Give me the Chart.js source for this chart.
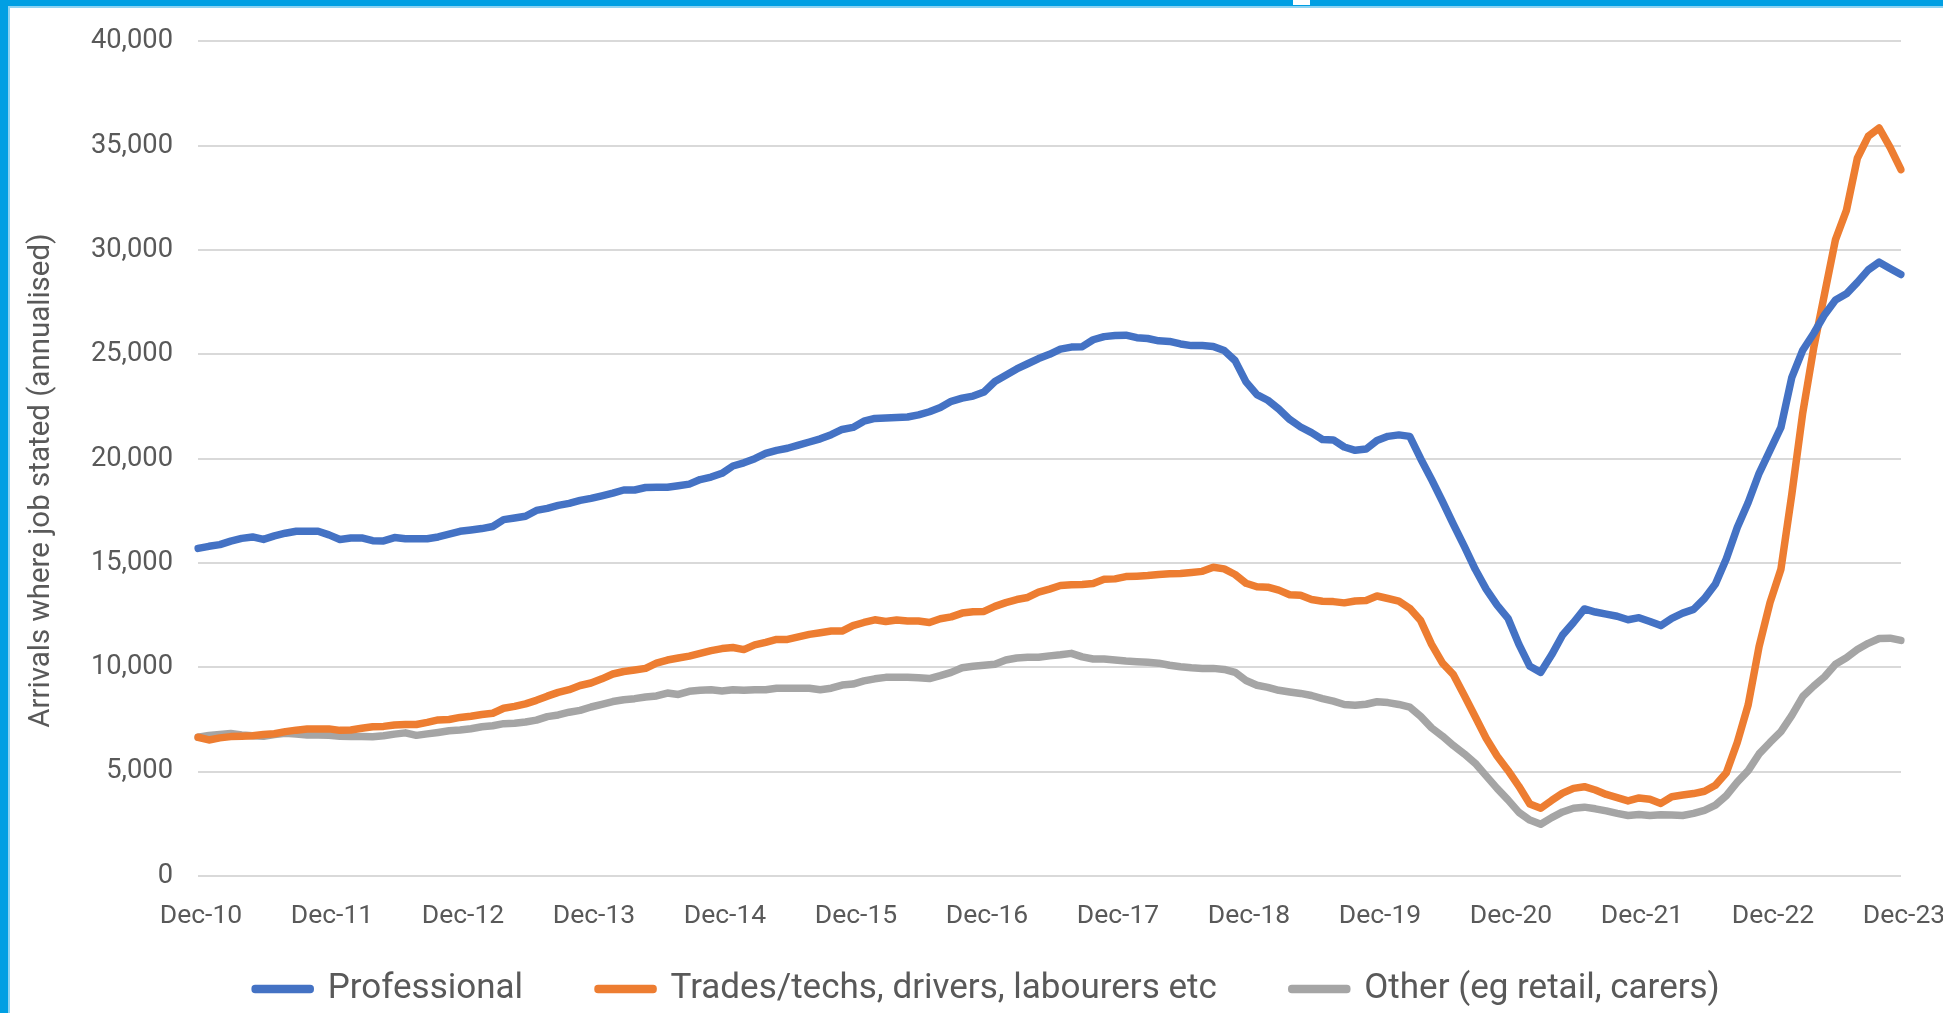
<!DOCTYPE html>
<html>
<head>
<meta charset="utf-8">
<script src="https://cdn.jsdelivr.net/npm/chart.js@4.4.1/dist/chart.umd.min.js"></script>
<style>
  html, body { margin: 0; padding: 0; background: #ffffff; overflow: hidden; }
  #wrap { position: relative; width: 1943px; height: 1013px; }
  #c { position: absolute; left: 0; top: 0; }
  .bar { position: absolute; }
</style>
</head>
<body>
<div id="wrap">
  <canvas id="c" width="1943" height="1013"></canvas>
  <div class="bar" style="left:0;top:0;width:1943px;height:6px;background:#009FE3;"></div>
  <div class="bar" style="left:0;top:6px;width:1943px;height:2px;background:#8FD3F2;"></div>
  <div class="bar" style="left:0;top:0;width:8px;height:1013px;background:#009FE3;"></div>
  <div class="bar" style="left:8px;top:6px;width:2px;height:1007px;background:#8FD3F2;"></div>
  <div class="bar" style="left:1293px;top:0;width:17px;height:5px;background:#ffffff;"></div>
</div>
<script>
// ---- Data ----
const monthNames = ['Jan','Feb','Mar','Apr','May','Jun','Jul','Aug','Sep','Oct','Nov','Dec'];
const categories = [];
for (let k = 0; k < 157; k++) {
  const m = (11 + k) % 12;
  const yy = 10 + Math.floor((11 + k) / 12);
  categories.push(monthNames[m] + '-' + String(yy).padStart(2, '0'));
}
const tickLabels = ['Dec-10','Dec-11','Dec-12','Dec-13','Dec-14','Dec-15','Dec-16',
                    'Dec-17','Dec-18','Dec-19','Dec-20','Dec-21','Dec-22','Dec-23'];
const seriesNames = ['Professional', 'Trades/techs, drivers, labourers etc', 'Other (eg retail, carers)'];
const yAxisTitle = 'Arrivals where job stated (annualised)';

const professional = [
15700,15800,15880,16050,16180,16250,16130,16300,16430,16520,
16520,16520,16350,16130,16200,16200,16070,16060,16220,16160,
16160,16160,16250,16380,16520,16580,16650,16750,17080,17160,
17240,17520,17620,17760,17860,18000,18100,18220,18350,18500,
18500,18620,18630,18630,18700,18780,19000,19120,19300,19650,
19800,20000,20250,20400,20500,20650,20800,20950,21150,21400,
21500,21800,21930,21950,21970,22000,22100,22250,22450,22750,
22900,23000,23200,23700,24000,24300,24550,24800,25000,25250,
25350,25370,25700,25850,25900,25920,25800,25760,25650,25620,
25500,25420,25420,25380,25180,24700,23680,23070,22800,22380,
21880,21520,21250,20920,20900,20560,20400,20460,20870,21070,
21140,21070,20000,19000,17950,16850,15800,14700,13750,12980,
12350,11100,10050,9760,10600,11550,12150,12800,12650,12550,
12450,12280,12380,12200,12000,12350,12600,12780,13300,14000,
15200,16700,17900,19300,20400,21500,23900,25200,26000,26900,
27600,27900,28450,29050,29420,29120,28830];

const trades = [
6650,6520,6620,6680,6700,6720,6780,6820,6920,6990,
7040,7050,7050,6980,7000,7080,7150,7170,7240,7260,
7260,7360,7480,7500,7600,7660,7740,7800,8040,8130,
8250,8420,8620,8800,8930,9130,9250,9450,9680,9800,
9870,9950,10200,10350,10450,10540,10670,10800,10900,10950,
10850,11080,11200,11340,11340,11460,11580,11660,11740,11740,
12000,12150,12280,12200,12270,12220,12220,12150,12330,12420,
12600,12660,12680,12920,13100,13250,13350,13600,13750,13920,
13960,13970,14020,14220,14240,14350,14370,14400,14450,14480,
14500,14550,14600,14800,14720,14450,14030,13860,13840,13700,
13480,13450,13250,13170,13150,13090,13180,13200,13420,13300,
13170,12830,12240,11100,10200,9650,8650,7630,6600,5750,
5060,4300,3450,3250,3620,3970,4200,4280,4120,3910,
3760,3600,3740,3680,3480,3800,3880,3950,4060,4350,
4950,6400,8200,11000,13100,14700,18300,22200,25300,27900,
30500,31900,34400,35450,35850,34920,33850];

const other = [
6650,6730,6780,6830,6760,6720,6700,6780,6840,6800,
6760,6760,6750,6700,6690,6690,6670,6720,6800,6860,
6740,6810,6880,6960,7000,7060,7150,7200,7300,7320,
7380,7470,7640,7720,7850,7940,8100,8230,8360,8450,
8500,8580,8630,8770,8700,8850,8900,8930,8870,8930,
8900,8930,8930,9000,9000,9000,9000,8930,9000,9150,
9200,9350,9450,9520,9520,9520,9500,9460,9600,9760,
9980,10050,10100,10150,10350,10450,10480,10480,10550,10600,
10670,10500,10400,10400,10350,10300,10270,10240,10200,10100,
10030,9980,9950,9950,9900,9760,9370,9140,9040,8900,
8820,8750,8650,8500,8380,8220,8180,8230,8350,8310,
8220,8090,7650,7100,6700,6250,5850,5400,4800,4200,
3650,3050,2680,2480,2800,3070,3250,3300,3220,3120,
3000,2900,2950,2900,2930,2920,2900,3000,3150,3400,
3850,4500,5050,5850,6400,6920,7700,8600,9100,9550,
10150,10460,10850,11150,11380,11400,11290];

const colors = ['#4472C4', '#ED7D31', '#A5A5A5'];
const textColor = '#595959';

Chart.defaults.font.family = 'Roboto, "Liberation Sans", sans-serif';

function ds(label, data, color) {
  return {
    label: label, data: data,
    borderColor: color, backgroundColor: color,
    borderWidth: 7.5, pointRadius: 0, pointHoverRadius: 0,
    tension: 0, borderCapStyle: 'round', borderJoinStyle: 'round', fill: false
  };
}

const LEGEND_PAD = 75;
const LEGEND_FONT = 35;
const legendPlace = {
  id: 'legendPlace',
  beforeInit(chart) {
    const orig = chart.legend.fit;
    chart.legend.fit = function () {
      orig.call(this);
      this.height = 77;
    };
  },
  afterLayout(chart) {
    const lg = chart.legend;
    const top = 989 - LEGEND_PAD - LEGEND_FONT / 2;
    lg.top = top;
    lg.bottom = chart.height;
    lg.height = chart.height - top;
  }
};

new Chart(document.getElementById('c').getContext('2d'), {
  type: 'line',
  data: {
    labels: categories,
    datasets: [
      ds(seriesNames[0], professional, colors[0]),
      ds(seriesNames[1], trades, colors[1]),
      ds(seriesNames[2], other, colors[2])
    ]
  },
  options: {
    responsive: false,
    animation: false,
    devicePixelRatio: 1,
    layout: { padding: { left: 74, right: 42, top: 40, bottom: 0 } },
    plugins: {
      legend: {
        position: 'bottom',
        labels: {
          boxWidth: 55, boxHeight: 1, padding: LEGEND_PAD,
          color: textColor, font: { size: LEGEND_FONT }
        }
      },
      tooltip: { enabled: false }
    },
    scales: {
      x: {
        type: 'category',
        offset: false,
        grid: {
          display: true, drawOnChartArea: false, drawTicks: true, tickLength: 24,
          color: 'rgba(0,0,0,0)', tickColor: 'rgba(0,0,0,0)'
        },
        border: { display: false },
        ticks: {
          autoSkip: false, maxRotation: 0, minRotation: 0, padding: 0, labelOffset: 3,
          color: textColor, font: { size: 26.5 },
          callback: function (v, i) {
            const lab = categories[i];
            return tickLabels.includes(lab) ? lab : '';
          }
        },
        afterFit(s) { s.height = 60; }
      },
      y: {
        min: 0, max: 40000,
        ticks: {
          stepSize: 5000, padding: 25, color: textColor, font: { size: 27.3 },
          callback: v => Number(v).toLocaleString('en-US')
        },
        grid: { color: '#D9D9D9', lineWidth: 2, drawTicks: false },
        border: { display: false },
        title: {
          display: true,
          text: yAxisTitle + '      ',
          color: textColor,
          font: { size: 29.5 },
          padding: { top: -49.7, bottom: 0 }
        },
        afterFit(s) { s.width = 124; }
      }
    }
  },
  plugins: [legendPlace]
});
</script>
</body>
</html>
